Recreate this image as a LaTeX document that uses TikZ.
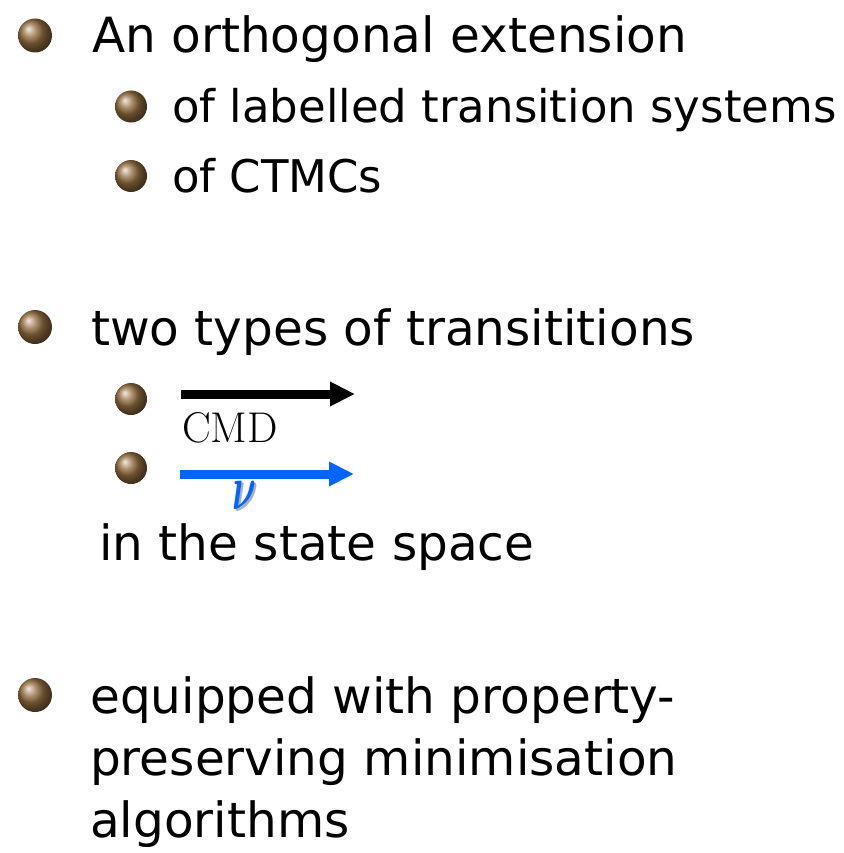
\documentclass[tikz,border=0pt]{standalone}
\usepackage{fontspec}
\usepackage{graphicx}
\setmainfont{DejaVu Sans}
\newfontfamily\cmdfont{Latin Modern Roman}
\usetikzlibrary{arrows.meta}
\definecolor{bronze}{RGB}{150,112,66}
\definecolor{nublue}{RGB}{0,102,255}
\definecolor{nushadow}{RGB}{175,175,180}
\newcommand{\nuglyph}{\resizebox{24pt}{28pt}{\boldmath$\nu$}}
% blue nu with a grey drop shadow, set as one box
\newcommand{\shadednu}{\rlap{\raisebox{-2pt}{\hspace{2pt}\textcolor{nushadow}{\nuglyph}}}\textcolor{nublue}{\nuglyph}}
\tikzset{
  ballmain/.style={circle, inner sep=0pt, minimum size=34pt, shading=ball, ball color=bronze},
  ballsub/.style={circle, inner sep=0pt, minimum size=32pt, shading=ball, ball color=bronze},
  lvlone/.style={anchor=base west, inner sep=0pt, font=\fontsize{48.5}{58}\selectfont},
  lvltwo/.style={anchor=base west, inner sep=0pt, font=\fontsize{45}{54}\selectfont},
  trans/.style={line width=9pt, -{Triangle[length=25pt,width=23pt]}},
}
\begin{document}
\begin{tikzpicture}[x=1pt,y=-1pt]
\useasboundingbox (0,0) rectangle (843,853);

% first item
\node[ballmain] (b1) at (35,35.5) {};
\node[lvlone] (t1) at (92,53) {An orthogonal extension};
\node[ballsub] (b11) at (131,106.5) {};
\node[lvltwo] (t11) at (172,123) {of labelled transition systems};
\node[ballsub] (b12) at (131,176) {};
\node[lvltwo] (t12) at (172,192) {of CTMCs};

% second item
\node[ballmain] (b2) at (35,327) {};
\node[lvlone] (t2) at (91,345) {two types of transititions};
\node[ballsub] (b21) at (131,399) {};
\coordinate (c1s) at (181,394);
\coordinate (c1e) at (355,394);
\draw[trans, black] (c1s) -- (c1e);
\node[anchor=base west, inner sep=0pt, font=\cmdfont\fontsize{43}{50}\selectfont] (cmd) at (182,442) {CMD};
\node[ballsub] (b22) at (131,468) {};
\coordinate (c2s) at (180,474);
\coordinate (c2e) at (354,474);
\draw[trans, nublue] (c2s) -- (c2e);
\node[anchor=base west, inner sep=0pt] (nu) at (232,509) {\shadednu};
\node[lvlone] (t3) at (99,560) {in the state space};

% third item
\node[ballmain] (b3) at (35,695) {};
\node[lvlone] (t41) at (90,713) {equipped with property-};
\node[lvlone] (t42) at (90,775) {preserving minimisation};
\node[lvlone] (t43) at (90,837) {algorithms};
\end{tikzpicture}
\end{document}
